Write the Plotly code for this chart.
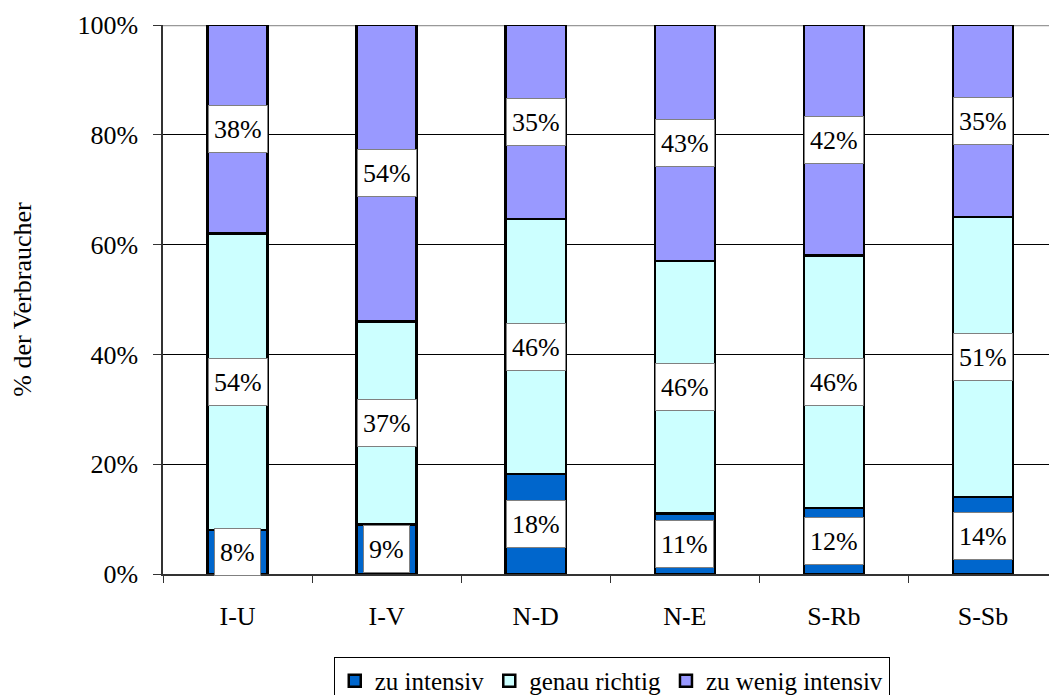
import plotly.graph_objects as go

# Consumer ratings per region (% of respondents)
categories = ["I-U", "I-V", "N-D", "N-E", "S-Rb", "S-Sb"]
zu_intensiv = [8, 9, 18, 11, 12, 14]
genau_richtig = [54, 37, 46, 46, 46, 51]
zu_wenig_intensiv = [38, 54, 35, 43, 42, 35]

y_ticks = [0, 20, 40, 60, 80, 100]
y_tick_labels = ["0%", "20%", "40%", "60%", "80%", "100%"]

series = [
    ("zu intensiv", zu_intensiv, "#0066CC"),
    ("genau richtig", genau_richtig, "#CCFFFF"),
    ("zu wenig intensiv", zu_wenig_intensiv, "#9999FF"),
]

FONT = "Liberation Serif, Times New Roman, serif"
FS = 26
BAR_W = 0.403

fig = go.Figure()
for name, vals, color in series:
    fig.add_trace(go.Bar(
        x=categories, y=vals, name=name, width=BAR_W,
        marker=dict(color=color, line=dict(color="black", width=2.5)),
    ))

# Value labels centred in each (normalised) stack segment
totals = [sum(v) for v in zip(zu_intensiv, genau_richtig, zu_wenig_intensiv)]
base = [0.0] * len(categories)
for name, vals, color in series:
    for i, v in enumerate(vals):
        share = 100.0 * v / totals[i]
        fig.add_annotation(
            x=categories[i], y=base[i] + share / 2, text=f"{v}%",
            showarrow=False, bgcolor="white", bordercolor="#808080",
            borderwidth=1, borderpad=5, height=36,
            font=dict(family=FONT, size=FS, color="black"),
        )
        base[i] += share

# Grey frame line along the top of the plot area (under the bars)
fig.add_shape(type="line", xref="paper", yref="y", x0=0, x1=1, y0=100, y1=100,
              line=dict(color="#999999", width=2.5), layer="below")

fig.update_layout(
    width=1049, height=695,
    margin=dict(l=163, r=0, t=25, b=121, autoexpand=False),
    barmode="stack", barnorm="percent",
    paper_bgcolor="white", plot_bgcolor="white",
    font=dict(family=FONT, size=FS, color="black"),
    showlegend=True,
    legend=dict(
        orientation="h", x=0.5065, xanchor="center", y=-0.151, yanchor="top",
        bordercolor="black", borderwidth=1,
        font=dict(family=FONT, size=FS - 1, color="black"),
        traceorder="normal",
    ),
    xaxis=dict(
        range=[-0.5, 5.443], showline=True, linecolor="#333333", linewidth=1.5,
        ticks="outside", ticklen=7, tickcolor="#333333", tickson="boundaries",
        showgrid=False, tickfont=dict(family=FONT, size=FS),
        ticklabelstandoff=18,
    ),
    yaxis=dict(
        range=[0, 100], tickvals=y_ticks, ticktext=y_tick_labels,
        showline=True, linecolor="#333333", linewidth=1.5,
        ticks="outside", ticklen=8, tickcolor="#333333",
        showgrid=True, gridcolor="black", gridwidth=1,
        zeroline=False, ticklabelstandoff=10,
        title=dict(text="% der Verbraucher", font=dict(family=FONT, size=FS), standoff=38),
        tickfont=dict(family=FONT, size=FS),
    ),
)

fig.write_html("out.html")
